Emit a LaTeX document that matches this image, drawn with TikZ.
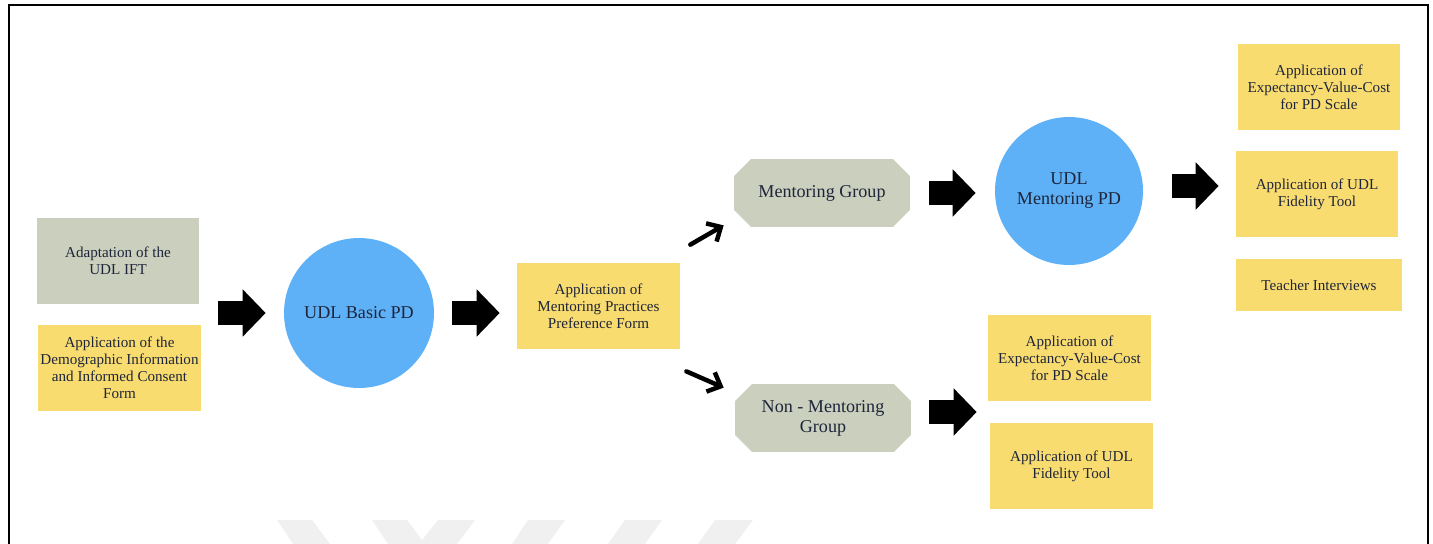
\documentclass[tikz,border=0pt]{standalone}
\usepackage{fontspec}
\setmainfont{Liberation Serif}
\usepackage{xcolor}
\usetikzlibrary{arrows.meta,calc}

\definecolor{boxgray}{RGB}{203,207,190}
\definecolor{boxyellow}{RGB}{249,220,111}
\definecolor{pdblue}{RGB}{94,177,247}
\definecolor{inkblue}{RGB}{30,37,58}
\definecolor{markgray}{RGB}{240,240,240}

\newcommand{\cutcorners}{%
	\fill[boxgray] ([xshift=0.34cm]path picture bounding box.north west) -- ([xshift=-0.34cm]path picture bounding box.north east)
		-- ([yshift=-0.34cm]path picture bounding box.north east) -- ([yshift=0.34cm]path picture bounding box.south east)
		-- ([xshift=-0.34cm]path picture bounding box.south east) -- ([xshift=0.34cm]path picture bounding box.south west)
		-- ([yshift=0.34cm]path picture bounding box.south west) -- ([yshift=-0.34cm]path picture bounding box.north west) -- cycle;}

\begin{document}
\begin{tikzpicture}[x=0.02cm,y=-0.02cm]
\tikzstyle{small text} = [text=inkblue, align=center, font=\fontsize{8.6}{9.7}\selectfont, inner sep=0pt]
\tikzstyle{big text} = [text=inkblue, align=center, font=\fontsize{10.3}{11.4}\selectfont, inner sep=0pt]
\tikzstyle{graybox} = [small text, rectangle, fill=boxgray, minimum width=3.24cm, minimum height=1.72cm]
\tikzstyle{yellowbox} = [small text, rectangle, fill=boxyellow, minimum width=3.26cm, minimum height=1.72cm]
\tikzstyle{pdcircle} = [big text, circle, fill=pdblue, minimum size=3cm]
\tikzstyle{groupbox} = [big text, rectangle, minimum width=3.52cm, minimum height=1.36cm, path picture={\cutcorners}]
\tikzstyle{fatarrow} = [line width=0.48cm, -{Triangle[width=0.92cm,length=0.46cm]}]
\tikzstyle{thinarrow} = [line width=0.09cm, line cap=round, -{Straight Barb[length=0.22cm,width=0.42cm]}]
%
	\clip (0,0) rectangle (1433,544);
	% frame and faint marks at the bottom
	\draw[line width=0.05cm] (9,560) -- (9,5) -- (1428,5) -- (1428,560);
	\fill[markgray] (277,520) -- (312,520) -- (330,544) -- (293,544) -- cycle;
	\fill[markgray] (372,520) -- (407,520) -- (422,540) -- (438,520) -- (475,520) -- (457,544) -- (388,544) -- cycle;
	\fill[markgray] (528,520) -- (565,520) -- (548,544) -- (512,544) -- cycle;
	\fill[markgray] (625,520) -- (662,520) -- (645,544) -- (608,544) -- cycle;
	\fill[markgray] (715,520) -- (753,520) -- (735,544) -- (698,544) -- cycle;

	% first stage
	\node[graybox] (adapt) at (118,261) {Adaptation of the\\UDL IFT};
	\node[yellowbox] (demog) at (119.5,368) {Application of the\\Demographic Information\\and Informed Consent\\Form};
	\node[pdcircle] (basic) at (359,313) {UDL Basic PD};
	\node[yellowbox] (prefer) at (598.5,306) {Application of\\Mentoring Practices\\Preference Form};

	% groups
	\node[groupbox] (mentor) at (822,193) {Mentoring Group};
	\node[groupbox] (nonmentor) at (823,418) {Non - Mentoring\\Group};
	\node[pdcircle, minimum size=2.96cm] (mentorpd) at (1069,191) {UDL\\Mentoring PD};

	% outcomes
	\node[yellowbox, minimum width=3.24cm] (evcA) at (1319,87) {Application of\\Expectancy-Value-Cost\\for PD Scale};
	\node[yellowbox, minimum width=3.24cm] (fidA) at (1317,194) {Application of UDL\\Fidelity Tool};
	\node[yellowbox, minimum width=3.32cm, minimum height=1.04cm] (interv) at (1319,285) {Teacher Interviews};
	\node[yellowbox] (evcB) at (1069.5,358) {Application of\\Expectancy-Value-Cost\\for PD Scale};
	\node[yellowbox] (fidB) at (1071.5,466) {Application of UDL\\Fidelity Tool};
	\coordinate (gapB) at ($(evcB.south west)!0.5!(fidB.north west)$);

	% arrows
	\draw[fatarrow, shorten <=0.34cm, shorten >=0.36cm] (basic.west -| demog.east) -- (basic.west);
	\draw[fatarrow, shorten <=0.36cm, shorten >=0.34cm] (basic.east) -- (basic.east -| prefer.west);
	\draw[fatarrow, shorten <=0.38cm, shorten >=0.38cm] (mentor.east) -- (mentor.east -| mentorpd.west);
	\draw[fatarrow, shorten <=0.58cm, shorten >=0.34cm] ([yshift=0.1cm]mentorpd.east) -- ([yshift=0.1cm]mentorpd.east -| fidA.west);
	\draw[fatarrow, shorten <=0.36cm, shorten >=0.24cm] (nonmentor.east |- gapB) -- (gapB);
	\draw[thinarrow] ([shift={(0.2cm,0.36cm)}]prefer.north east) -- ([shift={(-0.2cm,0.04cm)}]mentor.south west);
	\draw[thinarrow] ([shift={(0.12cm,-0.44cm)}]prefer.south east) -- ([shift={(-0.22cm,-0.08cm)}]nonmentor.north west);
\end{tikzpicture}
\end{document}
